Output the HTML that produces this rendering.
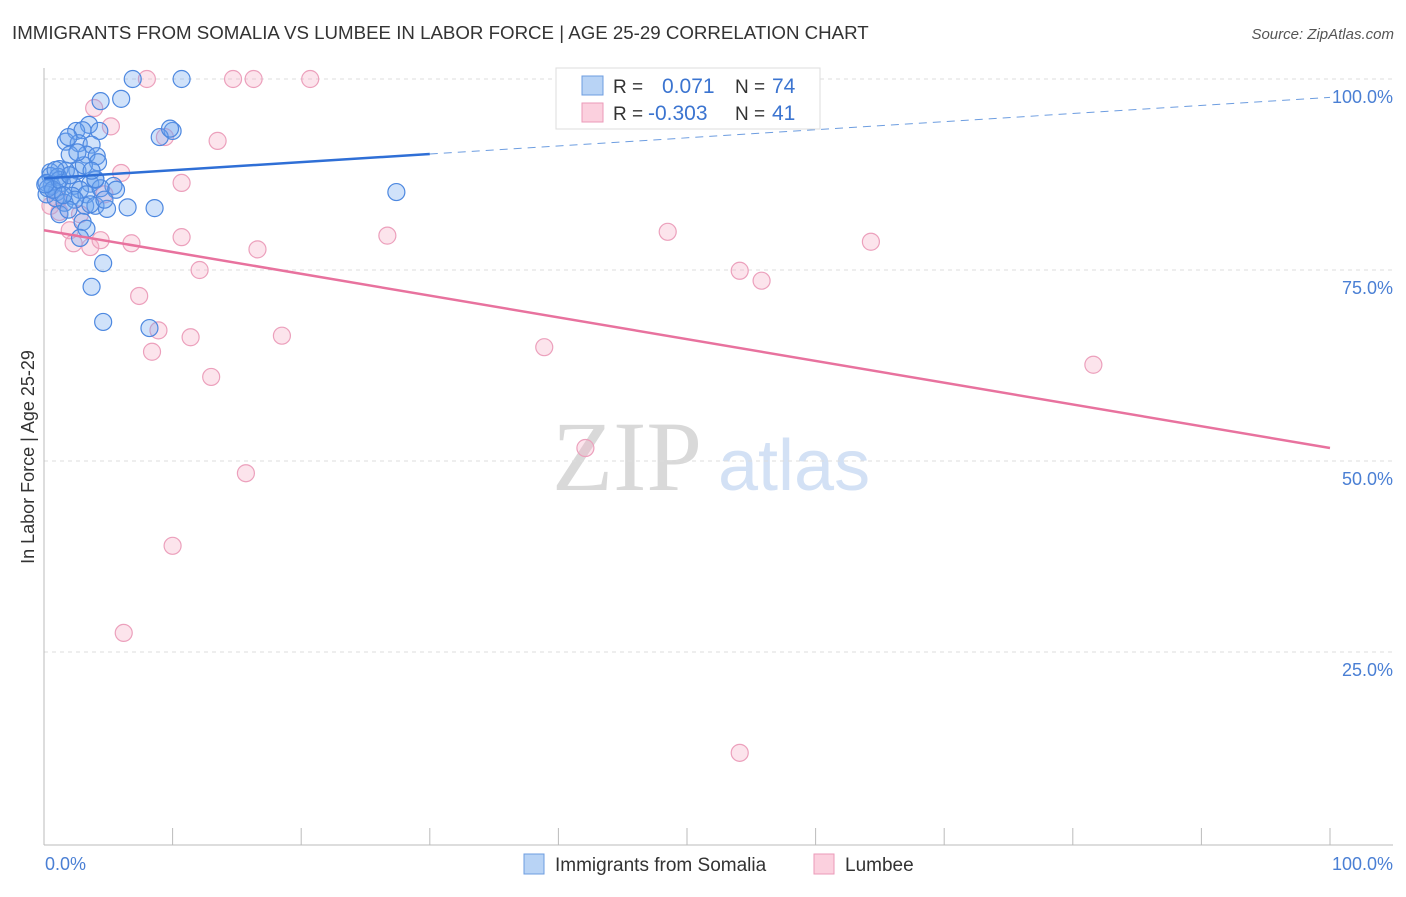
<!DOCTYPE html>
<html><head><meta charset="utf-8"><style>
body{margin:0;background:#fff;font-family:"Liberation Sans",sans-serif}
svg text{font-family:"Liberation Sans",sans-serif}
</style></head><body>
<svg id="c" width="1406" height="892">
<text x="12" y="39" font-size="18.7" fill="#333">IMMIGRANTS FROM SOMALIA VS LUMBEE IN LABOR FORCE | AGE 25-29 CORRELATION CHART</text>
<text x="1394" y="39" font-size="15" fill="#555" font-style="italic" text-anchor="end">Source: ZipAtlas.com</text>
<text x="552" y="490" font-size="100" fill="#d9d9d9" style="font-family:'Liberation Serif',serif">ZIP</text>
<text x="718" y="490" font-size="72" fill="#d3e1f5">atlas</text>
<g id="grid"></g><g id="marks"></g>
<text transform="translate(34,457) rotate(-90)" font-size="18" fill="#333" text-anchor="middle">In Labor Force | Age 25-29</text>
<text x="45" y="870" font-size="18" fill="#4a7fd4">0.0%</text>
<text x="1393" y="870" font-size="18" fill="#4a7fd4" text-anchor="end">100.0%</text>
<g>
<rect x="556" y="68" width="264" height="61" fill="#fff" stroke="#ddd"/>
<rect x="582" y="76" width="21" height="19" fill="#b8d3f5" stroke="#6d9de0"/>
<rect x="582" y="103" width="21" height="19" fill="#fbd0de" stroke="#eb9ab8"/>
<text x="613" y="93" font-size="19" fill="#333">R =</text><text x="662" y="93" font-size="21" fill="#3b74d0">0.071</text>
<text x="735" y="93" font-size="19" fill="#333">N =</text><text x="772" y="93" font-size="21" fill="#3b74d0">74</text>
<text x="613" y="120" font-size="19" fill="#333">R =</text><text x="648" y="120" font-size="21" fill="#3b74d0">-0.303</text>
<text x="735" y="120" font-size="19" fill="#333">N =</text><text x="772" y="120" font-size="21" fill="#3b74d0">41</text>
</g>
<g>
<rect x="524" y="854" width="20" height="20" fill="#b8d3f5" stroke="#6d9de0"/>
<text x="555" y="871" font-size="19" fill="#333">Immigrants from Somalia</text>
<rect x="814" y="854" width="20" height="20" fill="#fbd0de" stroke="#eb9ab8"/>
<text x="845" y="871" font-size="19" fill="#333">Lumbee</text>
</g>
</svg>
<script>
const yTicks=[25,50,75,100];
const yTickLabels=["25.0%","50.0%","75.0%","100.0%"];
const xTicks=[0,10,20,30,40,50,60,70,80,90,100];
const blueX=[6.9,10.7,6.0,4.4,3.5,4.3,2.5,3.0,1.7,2.7,3.7,10.0,9.0,9.8,3.3,2.0,4.1,4.2,1.2,2.6,1.7,0.5,0.5,1.1,0.2,0.6,1.4,2.3,3.6,4.0,5.4,5.6,2.8,1.0,0.2,0.9,2.2,3.3,1.6,3.2,4.0,4.9,6.5,8.6,3.6,1.2,3.0,3.3,2.8,4.6,3.7,4.6,8.2,27.4,0.3,0.7,1.2,2.0,4.4,2.4,1.9,4.0,4.7,1.5,0.1,0.9,3.1,3.7,2.6,1.9];
const blueY=[100,100,97.4,97.1,94.0,93.2,93.2,93.3,91.8,91.6,91.4,93.2,92.4,93.5,90.1,90.1,89.9,89.1,88.2,88.0,88.0,87.8,87.3,87.2,86.4,86.0,86.4,86.0,86.3,86.8,86.0,85.5,85.5,85.2,84.9,84.4,84.7,84.9,83.8,83.4,83.4,83.0,83.2,83.1,83.6,82.3,81.3,80.4,79.2,75.9,72.8,68.2,67.4,85.2,85.7,85.5,86.8,87.4,85.7,84.2,82.9,86.9,84.2,84.8,86.2,88.1,88.7,88.0,90.4,92.4];
const pinkX=[8.0,14.7,16.3,20.7,3.9,5.2,9.4,13.5,6.0,10.7,4.7,0.5,1.2,2.0,2.3,3.6,4.4,6.8,10.7,16.6,26.7,48.5,64.3,12.1,54.1,55.8,7.4,8.9,11.4,18.5,8.4,38.9,13.0,81.6,42.1,15.7,10.0,6.2,54.1,1.1,2.8];
const pinkY=[100,100,100,100,96.2,93.8,92.4,91.9,87.7,86.4,84.9,83.4,82.6,80.2,78.5,78.0,78.9,78.5,79.3,77.7,79.5,80.0,78.7,75.0,74.9,73.6,71.6,67.1,66.2,66.4,64.3,64.9,61.0,62.6,51.7,48.4,38.9,27.5,11.8,84.2,82.3];
const blueTrend=[87.0,97.6];
const pinkTrend=[80.2,51.7];
const NS="http://www.w3.org/2000/svg";
const sx=v=>44+v*12.86, sy=v=>843-v*7.64;
const grid=document.getElementById('grid'), marks=document.getElementById('marks');
function mk(tag,at,parent){const e=document.createElementNS(NS,tag);for(const k in at)e.setAttribute(k,at[k]);parent.appendChild(e);return e;}
yTicks.forEach((t,i)=>{
 const l=mk('line',{x1:44,x2:1393,y1:sy(t),y2:sy(t),stroke:'#ddd','stroke-dasharray':'4,4'},grid);
 
 
 const tx=mk('text',{x:1393,y:sy(t)+24,'font-size':18,fill:'#4a7fd4','text-anchor':'end'},grid);
 tx.textContent=yTickLabels[i];
 
 
});
const ya=mk('line',{x1:44,x2:44,y1:68,y2:845,stroke:'#bbb'},grid);


const xa=mk('line',{x1:44,x2:1393,y1:845,y2:845,stroke:'#bbb'},grid);


xTicks.forEach(t=>{
 const l=mk('line',{x1:sx(t),x2:sx(t),y1:828,y2:845,stroke:'#bbb'},grid);
 
 
});
pinkX.forEach((x,i)=>{
 const c=mk('circle',{cx:sx(x),cy:sy(pinkY[i]),r:8.5,fill:'rgba(246,170,196,0.32)',stroke:'#eca0bc','stroke-width':1.2},marks);
 
 
});
blueX.forEach((x,i)=>{
 const c=mk('circle',{cx:sx(x),cy:sy(blueY[i]),r:8.5,fill:'rgba(110,165,240,0.32)',stroke:'#4d88e0','stroke-width':1.2},marks);
 
 
});
const bAt=x=>blueTrend[0]+(blueTrend[1]-blueTrend[0])*x/100;
const bl=mk('line',{x1:sx(0),y1:sy(bAt(0)),x2:sx(30),y2:sy(bAt(30)),stroke:'#2f6fd6','stroke-width':2.5},marks);


const bd=mk('line',{x1:sx(30),y1:sy(bAt(30)),x2:sx(100),y2:sy(bAt(100)),stroke:'#6d9de0','stroke-width':1,'stroke-dasharray':'8,6'},marks);


const pl=mk('line',{x1:sx(0),y1:sy(pinkTrend[0]),x2:sx(100),y2:sy(pinkTrend[1]),stroke:'#e8729e','stroke-width':2.5},marks);


</script>
</body></html>
